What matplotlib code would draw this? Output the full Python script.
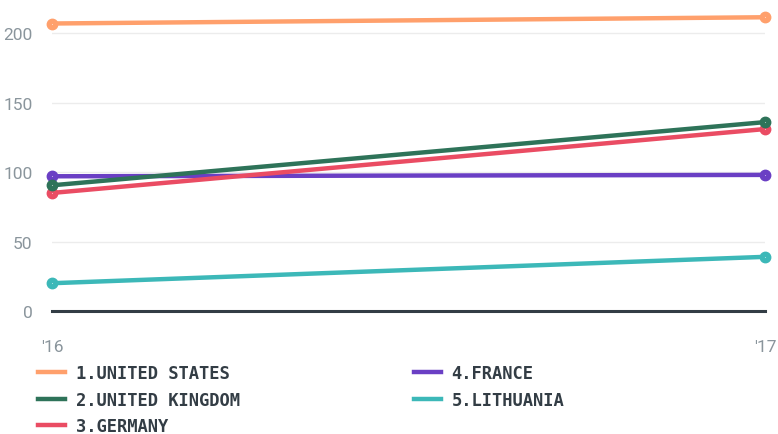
import matplotlib.pyplot as plt
from matplotlib.lines import Line2D

# data
years = ["'16", "'17"]
countries = ['1.UNITED STATES', '2.UNITED KINGDOM', '3.GERMANY', '4.FRANCE', '5.LITHUANIA']
united_states = [207, 211.5]
united_kingdom = [90.5, 136]
germany = [85, 131]
france = [97, 98]
lithuania = [20, 39]
colors = ['#ffa06c', '#2e7359', '#ea4c63', '#6a3fc4', '#3cb8b8']
series = [united_states, united_kingdom, germany, france, lithuania]

fig = plt.figure(figsize=(7.78, 4.35), dpi=100)
ax = fig.add_axes([52/778, 1 - 312/435, (765-52)/778, 300/435])

xs = range(len(years))
# grid lines
for v in [50, 100, 150, 200]:
    ax.axhline(v, color='#ececec', lw=1, zorder=0)
ax.axhline(0, color='#333d45', lw=2.2, zorder=1, clip_on=False)

# draw lines, bottom rank first so US is on top
for vals, c in reversed(list(zip(series, colors))):
    ax.plot(xs, vals, color=c, lw=3.2, marker='o', ms=7.5, clip_on=False, zorder=3,
            solid_capstyle='round')
    ax.plot(xs, vals, ls='none', marker='o', ms=0.8, mew=0, color='white', alpha=0.6,
            clip_on=False, zorder=4)

ax.set_xlim(0, 1)
ax.set_ylim(0, 216)
ax.set_xticks(list(xs))
ax.set_xticklabels(years)
ax.set_yticks([0, 50, 100, 150, 200])
for s in ax.spines.values():
    s.set_visible(False)
ax.tick_params(length=0, labelsize=12.5, labelcolor='#8a959c', pad=14)
ax.tick_params(axis='x', pad=20)
for lab in ax.get_xticklabels() + ax.get_yticklabels():
    lab.set_fontfamily('Roboto')

handles = [Line2D([], [], color=c, lw=3.2) for c in colors]
fig.legend(handles, countries, loc='upper left', bbox_to_anchor=(38/778, 1 - 365/435),
           ncol=2, frameon=False, borderpad=0, borderaxespad=0,
           handlelength=1.6, handletextpad=0.6, columnspacing=10.2, labelspacing=0.5,
           prop={'family': 'DejaVu Sans Mono', 'weight': 'bold', 'size': 12.3},
           labelcolor='#333d45')

fig.savefig('out.png', dpi=100)
